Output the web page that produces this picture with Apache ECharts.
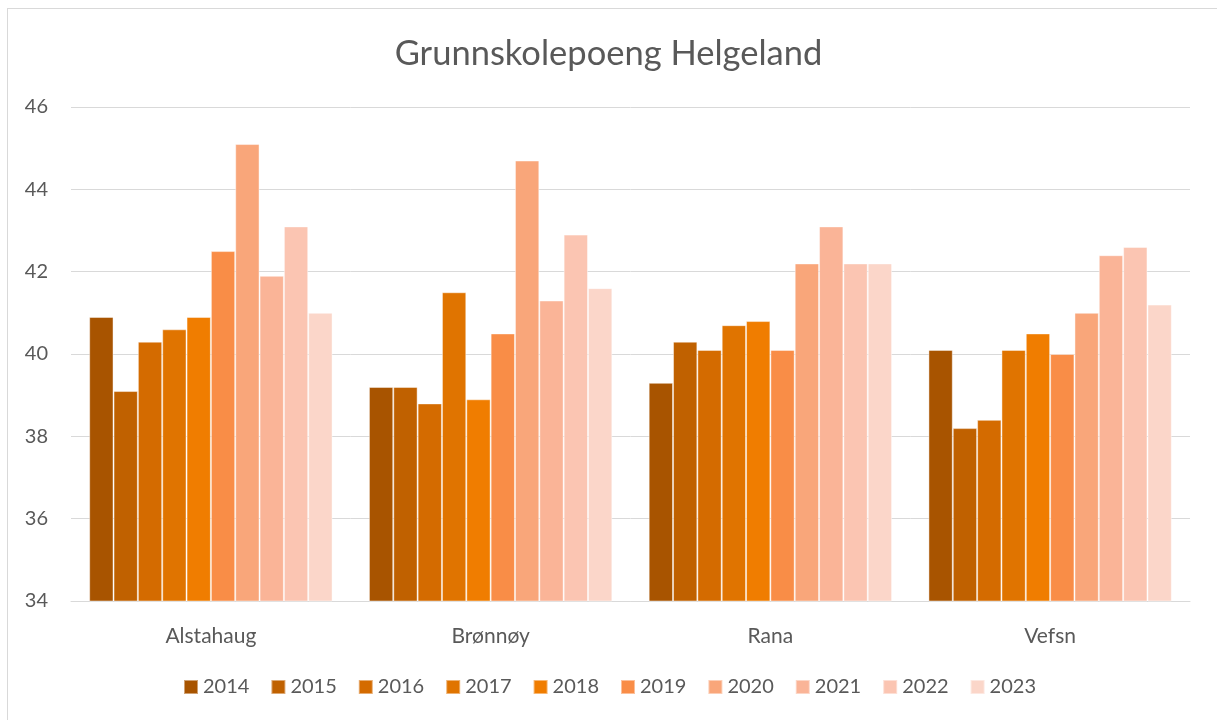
<!DOCTYPE html>
<html>
<head>
<meta charset="utf-8">
<script src="https://cdn.jsdelivr.net/npm/echarts@6/dist/echarts.min.js"></script>
<style>
  html, body { margin: 0; padding: 0; background: #fff; }
  #frame { position: absolute; left: 7px; top: 8px; width: 1230px; height: 730px; border: 1px solid #d9d9d9; }
  #charts { position: absolute; left: 0; top: 0; width: 1217px; height: 720px; }
</style>
</head>
<body>
<div id="frame"></div>
<div id="charts"></div>
<script>
var kommuner = ['Alstahaug', 'Brønnøy', 'Rana', 'Vefsn']
var aar = ['2014', '2015', '2016', '2017', '2018', '2019', '2020', '2021', '2022', '2023']
// poeng per aar, en rad per aar (Alstahaug, Brønnøy, Rana, Vefsn)
var p2014 = [40.9, 39.2, 39.3, 40.1]
var p2015 = [39.1, 39.2, 40.3, 38.2]
var p2016 = [40.3, 38.8, 40.1, 38.4]
var p2017 = [40.6, 41.5, 40.7, 40.1]
var p2018 = [40.9, 38.9, 40.8, 40.5]
var p2019 = [42.5, 40.5, 40.1, 40.0]
var p2020 = [45.1, 44.7, 42.2, 41.0]
var p2021 = [41.9, 41.3, 43.1, 42.4]
var p2022 = [43.1, 42.9, 42.2, 42.6]
var p2023 = [41.0, 41.6, 42.2, 41.2]
var yTicks = [34, 36, 38, 40, 42, 44, 46]

var verdier = [p2014, p2015, p2016, p2017, p2018, p2019, p2020, p2021, p2022, p2023]
var farger = ['#a85400', '#c06100', '#d46b00', '#e07400', '#f07d00', '#f98d47', '#f9a67a', '#fab497', '#fbc5b2', '#fbd6c9']
var tekstfarge = '#595959'
var font = 'Lato'

chart()

function chart() {
  var series = []
  for (var i = 0; i < aar.length; i++) {
    series.push({
      name: aar[i],
      type: 'bar',
      data: verdier[i],
      barGap: 0,
      barCategoryGap: '13%',
      itemStyle: {
        color: farger[i],
        borderColor: 'rgba(255,255,255,0.45)',
        borderWidth: 1
      }
    })
  }
  var myChart = echarts.init(document.getElementById('charts'))
  var option = {
    animation: false,
    color: farger,
    title: {
      text: 'Grunnskolepoeng Helgeland',
      left: 'center',
      top: 31,
      textStyle: {
        color: tekstfarge,
        fontSize: 34.5,
        fontWeight: 'normal',
        fontFamily: font
      }
    },
    grid: {
      left: 71,
      right: 27,
      top: 107,
      bottom: 119,
      containLabel: false
    },
    legend: {
      data: aar,
      bottom: 18,
      left: 178,
      itemWidth: 14,
      itemHeight: 14,
      itemGap: 21,
      icon: 'rect',
      textStyle: {
        color: tekstfarge,
        fontSize: 20,
        fontFamily: font
      }
    },
    xAxis: {
      type: 'category',
      data: kommuner,
      axisLine: { lineStyle: { color: '#d9d9d9', width: 1 } },
      axisTick: { show: false },
      axisLabel: {
        color: tekstfarge,
        fontSize: 21,
        fontFamily: font,
        margin: 25
      }
    },
    yAxis: {
      type: 'value',
      min: yTicks[0],
      max: yTicks[yTicks.length - 1],
      interval: 2,
      axisLine: { show: false },
      axisTick: { show: false },
      splitLine: { lineStyle: { color: '#d9d9d9', width: 1 } },
      axisLabel: {
        color: tekstfarge,
        fontSize: 20,
        fontFamily: font,
        margin: 23
      }
    },
    series: series
  }
  myChart.setOption(option)
}
</script>
</body>
</html>
